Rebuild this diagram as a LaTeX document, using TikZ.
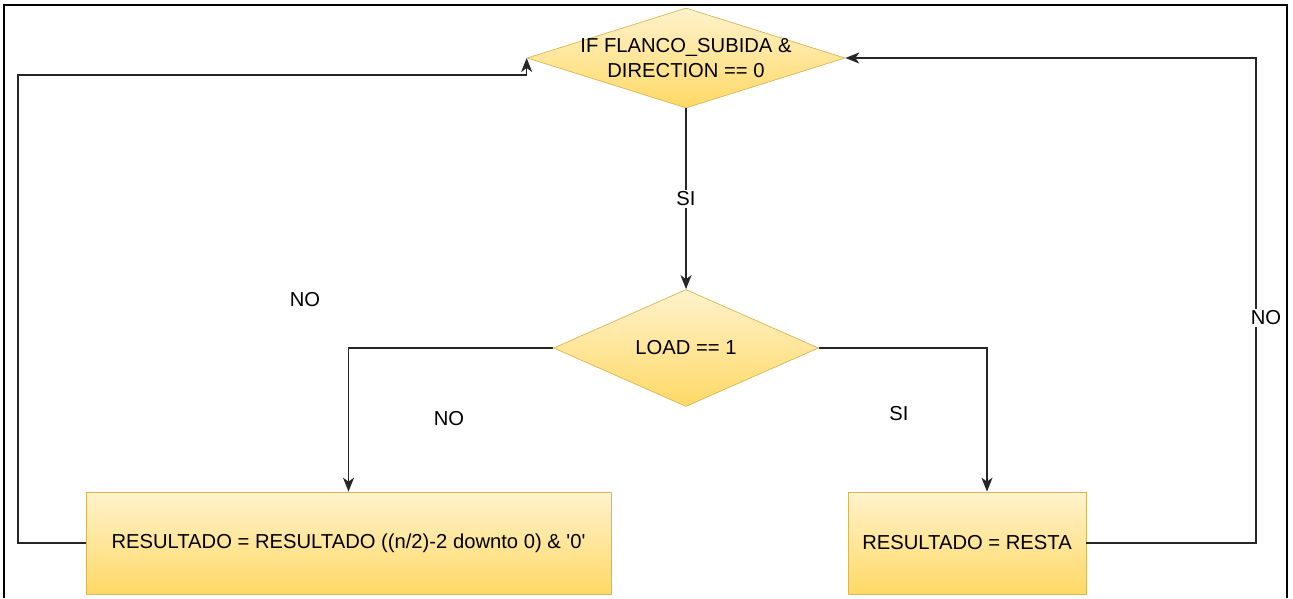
\documentclass[tikz,border=0pt]{standalone}
\usepackage{fontspec}
\setmainfont{Liberation Sans}
\usetikzlibrary{arrows.meta, shapes.geometric}
\definecolor{boxtop}{HTML}{FFF2CC}
\definecolor{boxbottom}{HTML}{FFD966}
\definecolor{boxline}{HTML}{D6B656}

\begin{document}
\begin{tikzpicture}[x=0.2mm, y=-0.2mm,
  every node/.style={font=\fontsize{11.5}{14}\selectfont},
  decision/.style={diamond, draw=boxline, top color=boxtop, bottom color=boxbottom, inner sep=0pt},
  process/.style={rectangle, draw=boxline, top color=boxtop, bottom color=boxbottom, minimum height=20.4mm},
  flow/.style={draw=black!85, line width=0.85pt, -{Stealth[length=2.8mm, width=2.2mm, inset=0.8mm]}},
  lbl/.style={fill=white, inner sep=1pt}]
  \useasboundingbox (0,0) rectangle (1293,598);
  \draw[line width=0.6pt] (4,598) -- (4,5) -- (1287,5) -- (1287,598);

  \node (cond1) [decision, minimum width=63.6mm, minimum height=20mm,
    label={[align=center]center:IF FLANCO\_SUBIDA \&\\DIRECTION == 0}] at (686,58) {};
  \node (cond2) [decision, minimum width=53mm, minimum height=23.4mm] at (686,348) {LOAD == 1};
  \node (res1) [process, minimum width=105mm] at (348.5,543)
    {RESULTADO = RESULTADO ((n/2)-2 downto 0) \& \textquotesingle 0\textquotesingle};
  \node (res2) [process, minimum width=47.6mm] at (967,543) {RESULTADO = RESTA};

  \coordinate (backL) at (18,75);
  \coordinate (backR) at (1256,58);
  \coordinate (turnR) at (987,348);

  \draw[flow] (cond1) -- node[lbl] {SI} (cond2);
  \draw[flow] (cond2.west) -| (res1.north);
  \draw[flow] (cond2.east) -- (turnR) -- (turnR |- res2.north);
  \draw[flow] (res1.west) -| (backL) -| (cond1.west);
  \draw[flow] (res2.east) -| (backR) -- (cond1.east);

  \node (noR) [lbl] at (1266,318) {NO};
  \node (noA) at (305,300) {NO};
  \node (noB) at (449,419) {NO};
  \node (siB) at (899,414) {SI};
\end{tikzpicture}
\end{document}
